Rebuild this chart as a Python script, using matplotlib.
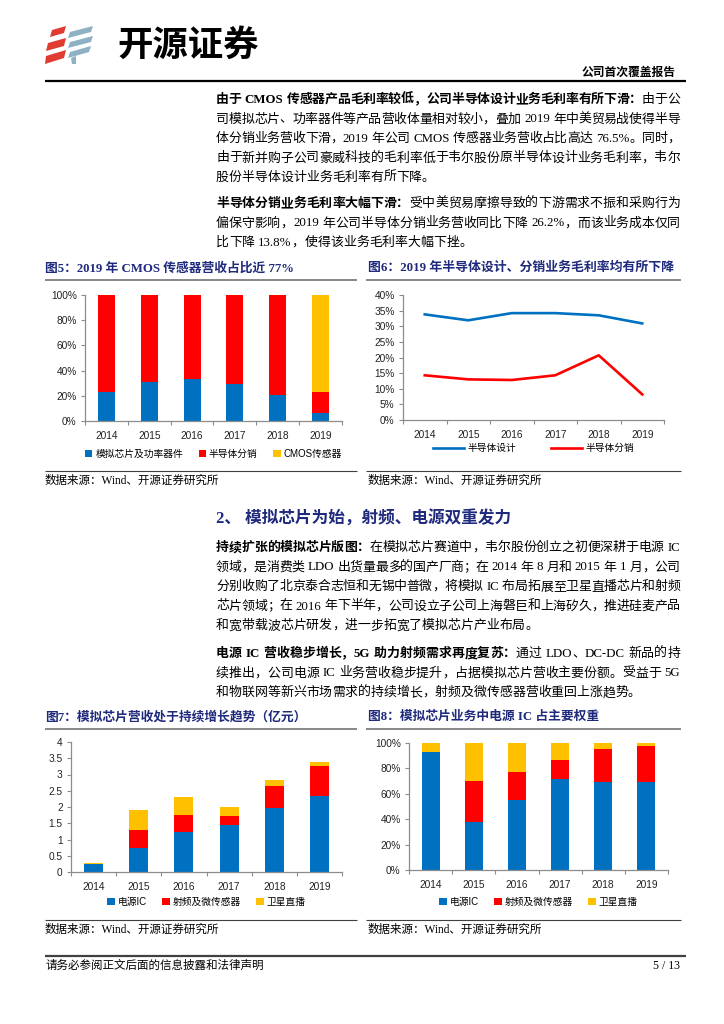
import re
import numpy as np
import matplotlib
matplotlib.use("Agg")
import matplotlib.pyplot as plt
from matplotlib.patches import Polygon
from matplotlib.font_manager import FontProperties

# ---------------- data ----------------
years = ["2014", "2015", "2016", "2017", "2018", "2019"]

# Fig 5: revenue share (%)
f5_analog = [23, 31, 33, 29.5, 20.5, 6.5]
f5_dist = [77, 69, 67, 70.5, 79.5, 16.5]
f5_cmos = [0, 0, 0, 0, 0, 77]
f5_labels = ["模拟芯片及功率器件", "半导体分销", "CMOS传感器"]

# Fig 6: gross margin (%)
f6_design = [33.8, 31.9, 34.2, 34.2, 33.5, 30.9]
f6_dist = [14.3, 13.0, 12.8, 14.3, 20.7, 8.2]
f6_labels = ["半导体设计", "半导体分销"]

# Fig 7: analog chip revenue (亿元)
f7_power = [0.24, 0.74, 1.23, 1.45, 1.96, 2.35]
f7_rf = [0.0, 0.56, 0.51, 0.28, 0.68, 0.92]
f7_sat = [0.05, 0.60, 0.56, 0.28, 0.18, 0.10]
f7_ticks = [0, 0.5, 1, 1.5, 2, 2.5, 3, 3.5, 4]
f7_ticklabels = ["0", "0.5", "1", "1.5", "2", "2.5", "3", "3.5", "4"]

# Fig 8: analog chip revenue share (%)
f8_power = [93, 38, 55, 72, 69.5, 69.5]
f8_rf = [0, 32, 22, 15, 25.5, 28]
f8_sat = [7, 30, 23, 13, 5, 2.5]
f78_labels = ["电源IC", "射频及微传感器", "卫星直播"]

pct_ticks = [0, 20, 40, 60, 80, 100]
pct_ticklabels = ["0%", "20%", "40%", "60%", "80%", "100%"]
f6_ticks = [0, 5, 10, 15, 20, 25, 30, 35, 40]
f6_ticklabels = ["0%", "5%", "10%", "15%", "20%", "25%", "30%", "35%", "40%"]

BLUE, RED, YELLOW = "#0070C0", "#FF0000", "#FFC000"

# ---------------- page setup ----------------
W, H = 724, 1024
fig = plt.figure(figsize=(7.24, 10.24), dpi=100)
bg = fig.add_axes([0, 0, 1, 1])
bg.set_xlim(0, W)
bg.set_ylim(H, 0)
bg.axis("off")
renderer = fig.canvas.get_renderer()

CJK = "Noto Sans CJK SC"
SERIF = ["Liberation Serif", CJK]
SANS = ["Liberation Sans", CJK]
NAVY = "#1F2A7C"


def txt(x, y, s, size=9, weight="normal", family=SERIF, color="black", ha="left"):
    return bg.text(x, y, s, fontsize=size, fontweight=weight, family=family,
                   color=color, ha=ha, va="center")


def hline(x0, x1, y, lw=1.0, color="black"):
    bg.plot([x0, x1], [y, y], color=color, lw=lw, solid_capstyle="butt")


BODY_SIZE = 9.3


def para_line(y, segments, justify=True, x0=216, x1=680, size=BODY_SIZE):
    toks = []
    for text, bold in segments:
        for tok in re.findall(r"[A-Za-z0-9.%\-]+| |.", text):
            toks.append((tok, bold))
    items = []
    for tok, bold in toks:
        if tok == " ":
            items.append((None, size * 100 / 72 * 0.28))
            continue
        t = txt(0, y, tok, size=size, weight="bold" if bold else "normal")
        w = t.get_window_extent(renderer).width
        items.append((t, w))
    total = sum(w for _, w in items)
    gaps = max(len(items) - 1, 1)
    extra = (x1 - x0 - total) / gaps if justify else 0.0
    x = x0
    for t, w in items:
        if t is not None:
            t.set_x(x)
        x += w + extra


# ---------------- header ----------------
red_polys = [
    [(52, 30), (66, 26), (64, 33), (50, 37)],
    [(48, 43), (66, 38), (64, 46), (46, 51)],
    [(46, 56), (66, 50), (64, 58), (45, 64)],
]
gray_polys = [
    [(70, 32), (93, 26), (91, 32), (68, 38)],
    [(70, 42), (93, 36), (91, 42), (68, 48)],
    [(70, 52), (91, 46), (89, 52), (68, 58)],
    [(71, 58), (76, 56), (76, 64), (72, 64)],
]
for p in red_polys:
    bg.add_patch(Polygon(p, closed=True, color="#E03C31", lw=0))
for p in gray_polys:
    bg.add_patch(Polygon(p, closed=True, color="#8FB1C4", lw=0))
txt(117, 45, "开源证券", size=25.5, weight="bold", family=[CJK])
txt(676, 73, "公司首次覆盖报告", size=8.5, weight="bold", ha="right")
hline(45, 686, 81, lw=1.6)

# ---------------- paragraph block 1 ----------------
ys1 = [100, 119.5, 139, 158.5, 178]
para_line(ys1[0], [("由于 CMOS 传感器产品毛利率较低，公司半导体设计业务毛利率有所下滑：", True), ("由于公", False)])
para_line(ys1[1], [("司模拟芯片、功率器件等产品营收体量相对较小，叠加 2019 年中美贸易战使得半导", False)])
para_line(ys1[2], [("体分销业务营收下滑，2019 年公司 CMOS 传感器业务营收占比高达 76.5%。同时，", False)])
para_line(ys1[3], [("由于新并购子公司豪威科技的毛利率低于韦尔股份原半导体设计业务毛利率，韦尔", False)])
para_line(ys1[4], [("股份半导体设计业务毛利率有所下降。", False)], justify=False)
ys2 = [204, 223.5, 243]
para_line(ys2[0], [("半导体分销业务毛利率大幅下滑：", True), ("受中美贸易摩擦导致的下游需求不振和采购行为", False)])
para_line(ys2[1], [("偏保守影响，2019 年公司半导体分销业务营收同比下降 26.2%，而该业务成本仅同", False)])
para_line(ys2[2], [("比下降 13.8%，使得该业务毛利率大幅下挫。", False)], justify=False)

# ---------------- chart titles / sources row 1 ----------------
txt(45, 268, "图5：2019 年 CMOS 传感器营收占比近 77%", size=9.2, weight="bold", color=NAVY)
txt(368, 268, "图6：2019 年半导体设计、分销业务毛利率均有所下降", size=9.3, weight="bold", color=NAVY)
hline(45, 357, 280, lw=1.3, color="#7F7F7F")
hline(366, 681, 280, lw=1.3, color="#7F7F7F")
hline(45, 357, 471, lw=0.8, color="#404040")
hline(366, 681, 471, lw=0.8, color="#404040")
txt(45, 481, "数据来源：Wind、开源证券研究所", size=8.3)
txt(368, 481, "数据来源：Wind、开源证券研究所", size=8.3)

# ---------------- section 2 ----------------
txt(216, 519, "2、 模拟芯片为始，射频、电源双重发力", size=12, weight="bold", color=NAVY)
ys3 = [548, 567.5, 587, 606.5, 626]
para_line(ys3[0], [("持续扩张的模拟芯片版图：", True), ("在模拟芯片赛道中，韦尔股份创立之初便深耕于电源 IC", False)])
para_line(ys3[1], [("领域，是消费类 LDO 出货量最多的国产厂商；在 2014 年 8 月和 2015 年 1 月，公司", False)])
para_line(ys3[2], [("分别收购了北京泰合志恒和无锡中普微，将模拟 IC 布局拓展至卫星直播芯片和射频", False)])
para_line(ys3[3], [("芯片领域；在 2016 年下半年，公司设立子公司上海磐巨和上海矽久，推进硅麦产品", False)])
para_line(ys3[4], [("和宽带载波芯片研发，进一步拓宽了模拟芯片产业布局。", False)], justify=False)
ys4 = [654, 673.5, 693]
para_line(ys4[0], [("电源 IC 营收稳步增长，5G 助力射频需求再度复苏：", True), ("通过 LDO、DC-DC 新品的持", False)])
para_line(ys4[1], [("续推出，公司电源 IC 业务营收稳步提升，占据模拟芯片营收主要份额。受益于 5G", False)])
para_line(ys4[2], [("和物联网等新兴市场需求的持续增长，射频及微传感器营收重回上涨趋势。", False)], justify=False)

# ---------------- chart titles / sources row 2 ----------------
txt(45, 717, "图7：模拟芯片营收处于持续增长趋势（亿元）", size=9.2, weight="bold", color=NAVY)
txt(368, 717, "图8：模拟芯片业务中电源 IC 占主要权重", size=9.2, weight="bold", color=NAVY)
hline(45, 357, 729, lw=1.3, color="#7F7F7F")
hline(366, 681, 729, lw=1.3, color="#7F7F7F")
hline(45, 357, 920, lw=0.8, color="#404040")
hline(366, 681, 920, lw=0.8, color="#404040")
txt(45, 930, "数据来源：Wind、开源证券研究所", size=8.3)
txt(368, 930, "数据来源：Wind、开源证券研究所", size=8.3)

# ---------------- footer ----------------
hline(45, 686, 956, lw=1.6, color="#404040")
txt(45, 966, "请务必参阅正文后面的信息披露和法律声明", size=8.3)
txt(680, 966, "5 / 13", size=8.5, ha="right")


# ---------------- charts ----------------
def axes_px(x0, y0, x1, y1):
    return fig.add_axes([x0 / W, 1 - y1 / H, (x1 - x0) / W, (y1 - y0) / H])


TICKFONT = FontProperties(family=SANS, size=7.3)
LEGFONT = FontProperties(family=SANS, size=7.0)


def style_axes(ax, yticks, yticklabels, ylim):
    x = np.arange(len(years))
    ax.set_xlim(-0.5, len(years) - 0.5)
    ax.set_ylim(*ylim)
    for s in ("top", "right"):
        ax.spines[s].set_visible(False)
    for s in ("left", "bottom"):
        ax.spines[s].set_color("#8C8C8C")
        ax.spines[s].set_linewidth(0.9)
    ax.set_xticks(x)
    ax.set_xticklabels(years, fontproperties=TICKFONT, color="#222222")
    ax.set_xticks(np.arange(-0.5, len(years), 1), minor=True)
    ax.tick_params(axis="x", which="major", length=0, pad=7)
    ax.tick_params(axis="x", which="minor", length=3, color="#8C8C8C", width=0.8)
    ax.set_yticks(yticks)
    ax.set_yticklabels(yticklabels, fontproperties=TICKFONT, color="#222222")
    ax.tick_params(axis="y", length=3, color="#8C8C8C", width=0.8, pad=3)
    ax.patch.set_alpha(0)


def stacked(ax, series, colors, labels, width):
    x = np.arange(len(years))
    bottom = np.zeros(len(years))
    for vals, c, l in zip(series, colors, labels):
        v = np.array(vals, dtype=float)
        ax.bar(x, v, width, bottom=bottom, color=c, label=l, lw=0)
        bottom += v


def square_legend(ax, y_axes, spacing):
    ax.legend(loc="center", bbox_to_anchor=(0.5, y_axes), ncol=3, frameon=False,
              prop=LEGFONT, handlelength=0.75, handleheight=0.75, handletextpad=0.3,
              columnspacing=spacing, borderaxespad=0)


# Fig 5
ax5 = axes_px(85, 295, 342, 421)
stacked(ax5, [f5_analog, f5_dist, f5_cmos], [BLUE, RED, YELLOW], f5_labels, 0.4)
style_axes(ax5, pct_ticks, pct_ticklabels, (0, 100))
square_legend(ax5, (421 - 454) / 126, 1.6)

# Fig 6
ax6 = axes_px(403, 295, 664, 420)
xi = np.arange(len(years))
ax6.plot(xi, f6_design, color=BLUE, lw=1.9, label=f6_labels[0])
ax6.plot(xi, f6_dist, color=RED, lw=1.9, label=f6_labels[1])
style_axes(ax6, f6_ticks, f6_ticklabels, (0, 40))
ax6.legend(loc="center", bbox_to_anchor=(0.5, (420 - 448) / 125), ncol=2, frameon=False,
           prop=LEGFONT, handlelength=3.2, handletextpad=0.4, columnspacing=3.5, borderaxespad=0)

# Fig 7
ax7 = axes_px(71, 742, 342, 872)
stacked(ax7, [f7_power, f7_rf, f7_sat], [BLUE, RED, YELLOW], f78_labels, 0.42)
style_axes(ax7, f7_ticks, f7_ticklabels, (0, 4))
square_legend(ax7, (872 - 902) / 130, 1.6)

# Fig 8
ax8 = axes_px(409, 743, 668, 870)
stacked(ax8, [f8_power, f8_rf, f8_sat], [BLUE, RED, YELLOW], f78_labels, 0.42)
style_axes(ax8, pct_ticks, pct_ticklabels, (0, 100))
square_legend(ax8, (870 - 902) / 127, 1.6)

fig.savefig("out.png", dpi=100)
